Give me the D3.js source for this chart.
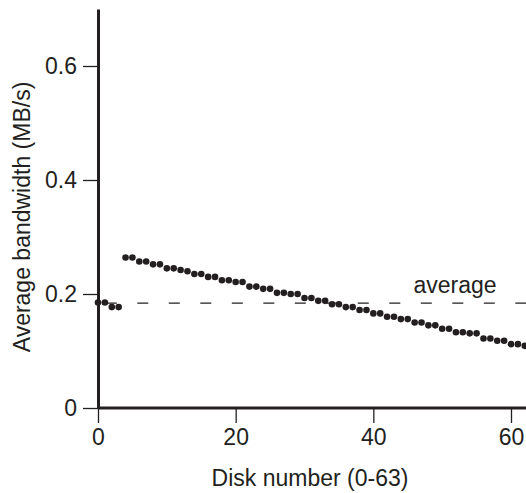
<!DOCTYPE html>
<html>
<head>
<meta charset="utf-8">
<script src="https://cdn.jsdelivr.net/npm/d3@7"></script>
<style>
    body { margin: 0; background: #fff; }
    svg { display: block; }
    text { font-family: "Liberation Sans", Arial, sans-serif; fill: #231f20; }
</style>
</head>
<body>
<div id="chart"></div>
<script>
(function(){

    // disk index 0-63
    var disks = d3.range(64);
    // average bandwidth per disk (MB/s)
    var bandwidth = [
        0.185, 0.185, 0.177, 0.177, 0.264, 0.264, 0.257, 0.257,
        0.252, 0.252, 0.245, 0.245, 0.242, 0.240, 0.235, 0.235,
        0.230, 0.230, 0.224, 0.224, 0.221, 0.221, 0.213, 0.213,
        0.209, 0.209, 0.202, 0.202, 0.200, 0.200, 0.193, 0.193,
        0.188, 0.188, 0.182, 0.182, 0.177, 0.177, 0.172, 0.172,
        0.166, 0.166, 0.160, 0.160, 0.156, 0.156, 0.150, 0.150,
        0.145, 0.145, 0.139, 0.139, 0.133, 0.133, 0.131, 0.131,
        0.122, 0.122, 0.118, 0.118, 0.112, 0.112, 0.109, 0.109
    ];
    var averageValue = 0.184;
    var xTicks = [0, 20, 40, 60];
    var yTicks = [0, 0.2, 0.4, 0.6];

    var width = 526, height = 493;

    var svg = d3.select("#chart").append("svg")
        .attr("width", width)
        .attr("height", height);

    var x = d3.scaleLinear().domain([0, 60]).range([98, 511]);
    var y = d3.scaleLinear().domain([0, 0.7]).range([408, 9]);

    //x axis
    var xAxis = svg.append("g")
        .attr("transform", "translate(0," + y(0) + ")")
        .call(d3.axisBottom(x).tickValues(xTicks).tickSize(15).tickSizeOuter(0).tickPadding(6)
            .tickFormat(d3.format("d")));
    xAxis.select(".domain").attr("d", "M" + x(0) + ",0H" + (width + 10));

    //y axis
    var yAxis = svg.append("g")
        .attr("transform", "translate(" + x(0) + ",0)")
        .call(d3.axisLeft(y).tickValues(yTicks).tickSize(15).tickSizeOuter(0).tickPadding(6)
            .tickFormat(function(d){ return d === 0 ? "0" : d3.format(".1f")(d); }));

    svg.selectAll(".domain").attr("stroke", "#231f20").attr("stroke-width", 3);
    svg.selectAll(".tick line").attr("stroke", "#231f20").attr("stroke-width", 1.3);
    svg.selectAll(".tick text")
        .style("font-size", "23px")
        .attr("fill", "#231f20");

    //average dashed line
    svg.append("line")
        .attr("x1", x(0))
        .attr("x2", width)
        .attr("y1", y(averageValue))
        .attr("y2", y(averageValue))
        .attr("stroke", "#231f20")
        .attr("stroke-width", 1.2)
        .attr("stroke-dasharray", "11,20.5")
        .attr("stroke-dashoffset", 23.7);

    svg.append("text")
        .attr("x", 455)
        .attr("y", 293)
        .attr("text-anchor", "middle")
        .style("font-size", "23px")
        .text("average");

    //dots
    svg.append("g").selectAll("circle")
        .data(disks)
        .enter()
        .append("circle")
        .attr("cx", function(d){ return x(d); })
        .attr("cy", function(d){ return y(bandwidth[d]); })
        .attr("r", 3.3)
        .attr("fill", "#231f20");

    //axis titles
    svg.append("text")
        .attr("x", 310)
        .attr("y", 486)
        .attr("text-anchor", "middle")
        .style("font-size", "23px")
        .text("Disk number (0-63)");

    svg.append("text")
        .attr("transform", "translate(30,217) rotate(-90)")
        .attr("text-anchor", "middle")
        .style("font-size", "23px")
        .text("Average bandwidth (MB/s)");

})();
</script>
</body>
</html>
